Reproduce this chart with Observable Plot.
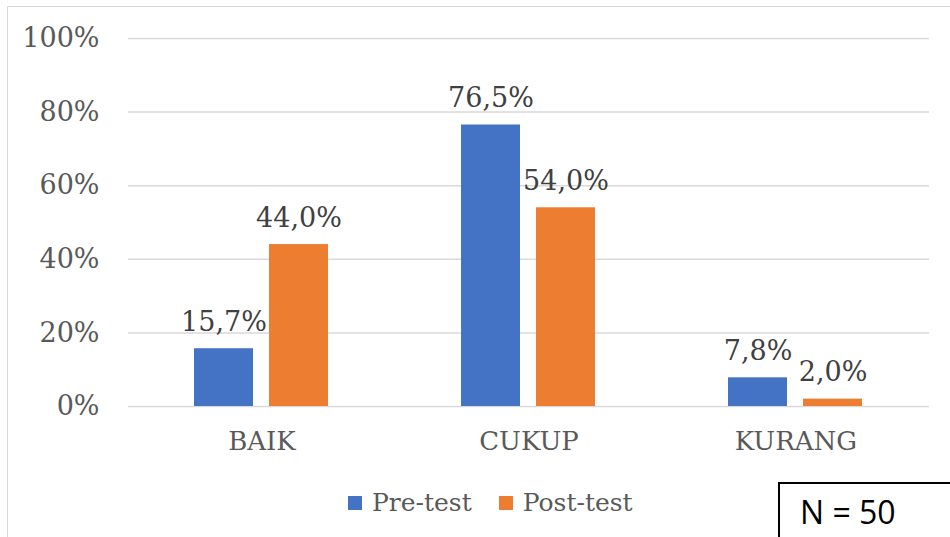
<!DOCTYPE html>
<html>
<head>
<meta charset="utf-8">
<script src="https://cdn.jsdelivr.net/npm/d3@7"></script>
<script src="https://cdn.jsdelivr.net/npm/@observablehq/plot@0.6"></script>
<style>
  html, body { margin: 0; padding: 0; background: #fff; }
  #wrap { position: relative; width: 950px; height: 537px; overflow: hidden; background: #fff; }
  #frame { position: absolute; left: 7px; top: 6px; width: 960px; height: 560px; border: 1.5px solid #D9D9D9; box-sizing: border-box; }
  #chart { position: absolute; left: 0; top: 0; }
  #legend { position: absolute; left: 348px; top: 488px; display: flex; align-items: center; font-family: "DejaVu Serif", serif; font-size: 25px; color: #595959; }
  .item { display: flex; align-items: center; margin-right: 27px; }
  .sw { width: 14px; height: 14px; margin-right: 10px; }
  #nbox { position: absolute; left: 778px; top: 482px; width: 200px; height: 90px; border: 2px solid #000; box-sizing: border-box; font-family: "Open Sans", "Liberation Sans", sans-serif; font-size: 32px; line-height: 32px; color: #000; padding-left: 20px; padding-top: 12px; }
</style>
</head>
<body>
<div id="wrap">
  <div id="frame"></div>
  <div id="chart"></div>
  <div id="legend"></div>
  <div id="nbox">N = 50</div>
</div>
<script>
const categories = ["BAIK", "CUKUP", "KURANG"];
const seriesNames = ["Pre-test", "Post-test"];
const preTest = [0.157, 0.765, 0.078];
const postTest = [0.44, 0.54, 0.02];
const yTicks = [0, 0.2, 0.4, 0.6, 0.8, 1.0];
const colors = ["#4472C4", "#ED7D31"];

const data = [];
categories.forEach((c, i) => {
  data.push({category: c, series: seriesNames[0], value: preTest[i]});
  data.push({category: c, series: seriesNames[1], value: postTest[i]});
});
const fmt = d => (d * 100).toFixed(1).replace(".", ",") + "%";

const chart = Plot.plot({
  width: 950,
  height: 537,
  marginLeft: 127,
  marginRight: 20,
  marginTop: 38,
  marginBottom: 131,
  style: {fontFamily: "DejaVu Serif, serif", fontSize: "27px", color: "#595959", background: "transparent", overflow: "visible"},
  fx: {domain: categories, padding: 0, label: null},
  x: {domain: seriesNames, axis: null, paddingInner: 0.21, paddingOuter: 0.866},
  y: {domain: [0, 1], label: null},
  color: {domain: seriesNames, range: colors},
  marks: [
    Plot.gridY(yTicks, {stroke: "#D9D9D9", strokeOpacity: 1, strokeWidth: 1.5}),
    Plot.axisY({ticks: yTicks, tickFormat: d => Math.round(d * 100) + "%", tickSize: 0, tickPadding: 29, label: null, fill: "#595959", fontSize: 27}),
    Plot.axisFx({anchor: "bottom", tickSize: 0, tickPadding: 25, label: null, fill: "#595959", fontSize: 26}),
    Plot.barY(data, {fx: "category", x: "series", y: "value", fill: "series"}),
    Plot.text(data, {fx: "category", x: "series", y: "value", text: d => fmt(d.value), dy: -18, lineAnchor: "bottom", fill: "#404040", fontSize: 27})
  ]
});
document.getElementById("chart").appendChild(chart);

const legend = document.getElementById("legend");
seriesNames.forEach((s, i) => {
  const it = document.createElement("div");
  it.className = "item";
  const sw = document.createElement("div");
  sw.className = "sw";
  sw.style.background = colors[i];
  const t = document.createElement("span");
  t.textContent = s;
  it.appendChild(sw);
  it.appendChild(t);
  legend.appendChild(it);
});
</script>
</body>
</html>
